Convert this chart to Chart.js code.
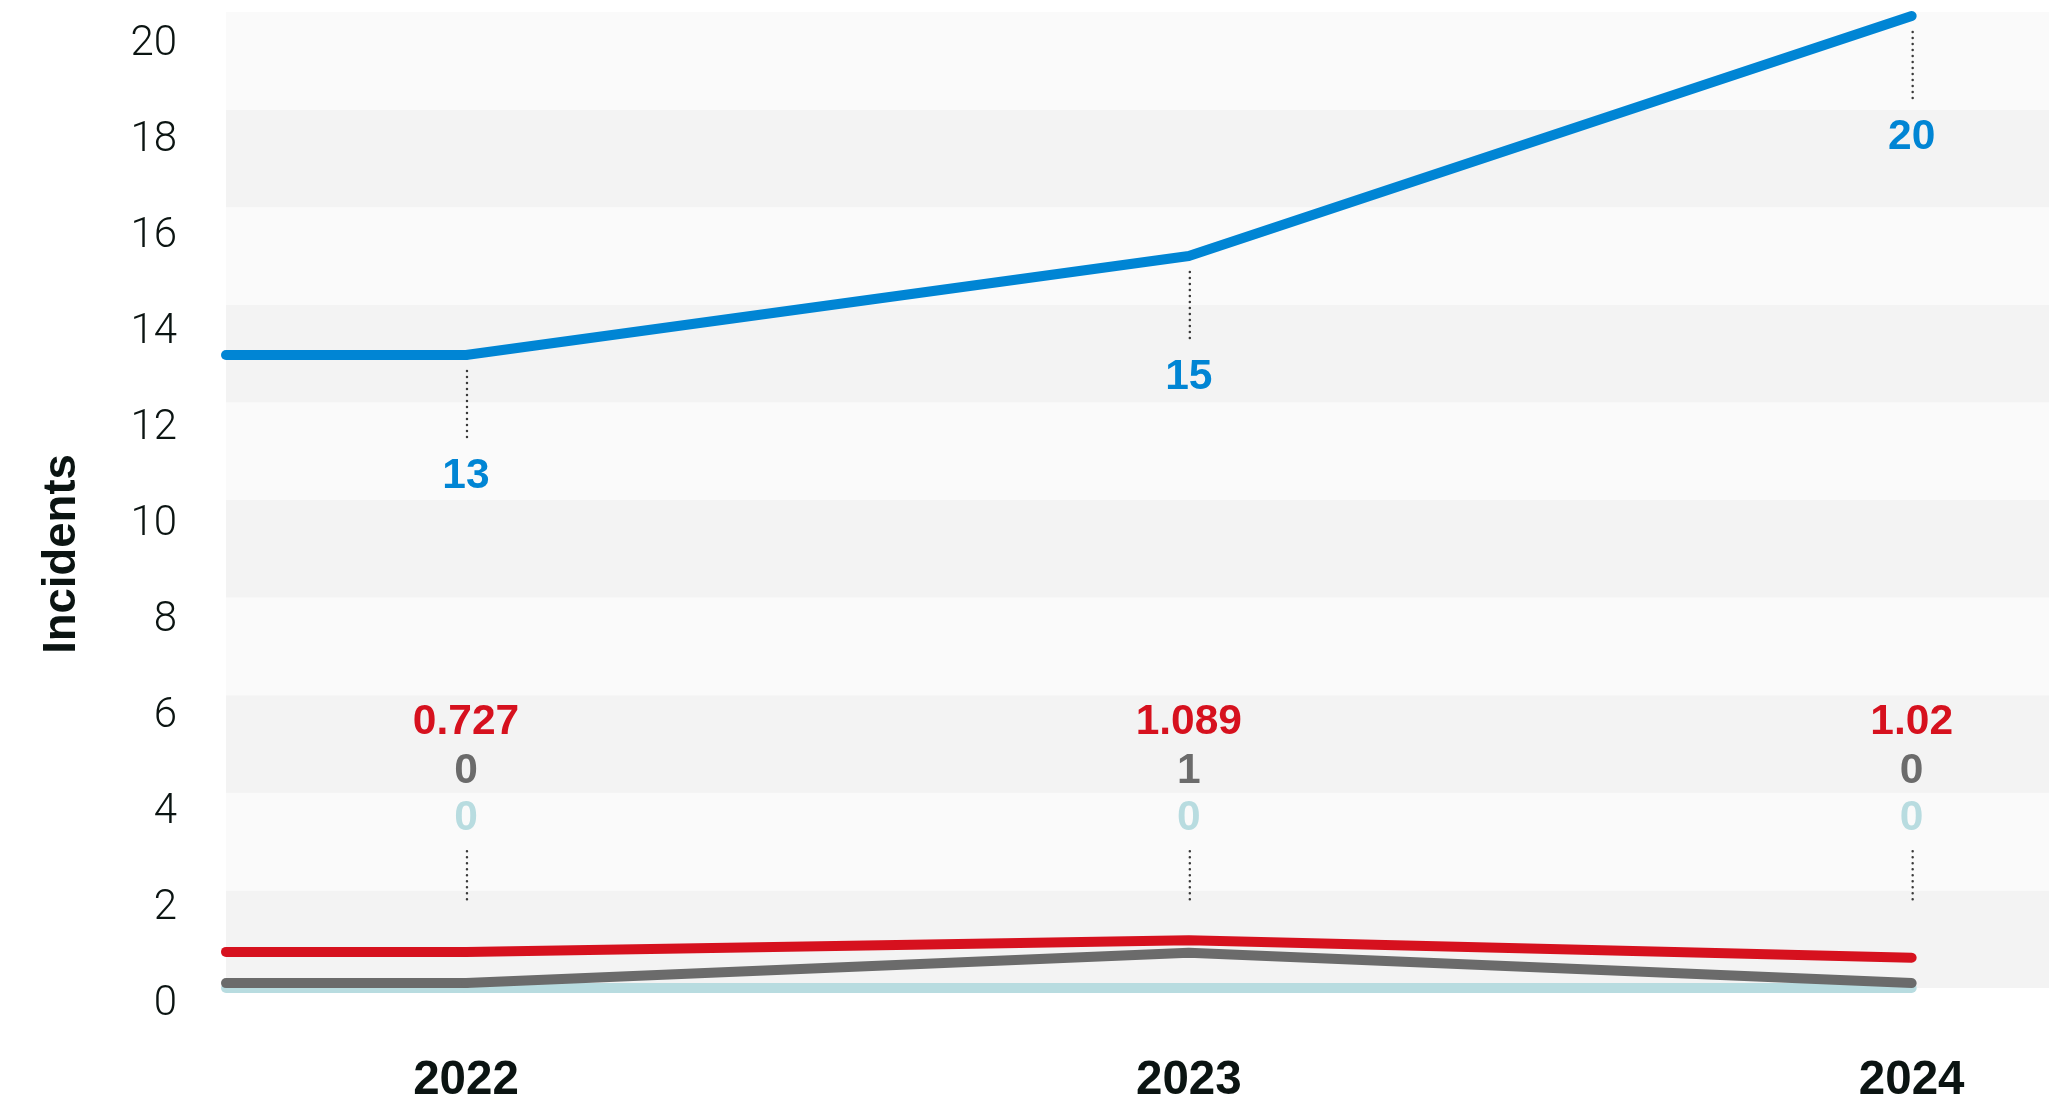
<!DOCTYPE html>
<html>
<head>
    <meta http-equiv="Content-Type" content="text/html; charset=UTF-8" />
    <title>Incidents</title>
    <script src="https://cdn.jsdelivr.net/npm/chart.js"></script>
<style>
    body { margin: 0; background-color: white; }
</style>
</head>
<body>
<canvas id="incidentChart" width="2060" height="1103"></canvas>

<script>
    // values
    var years = [2022, 2023, 2024];
    var yTicks = [0, 2, 4, 6, 8, 10, 12, 14, 16, 18, 20];

    var blueValues = [12.97, 15, 19.92];
    var redValues = [0.74, 0.98, 0.62];
    var grayValues = [0.1, 0.72, 0.1];
    var lightValues = [0, 0, 0];

    // printed labels
    var blueLabels = ['13', '15', '20'];
    var redLabels = ['0.727', '1.089', '1.02'];
    var grayLabels = ['0', '1', '0'];
    var lightLabels = ['0', '0', '0'];

    var BLUE = '#0085d4', RED = '#d6111e', GRAY = '#6b6b6b', LIGHT = '#b8dce0';
    var INK = '#0b1412';
    var BOLD = "'Liberation Sans', Arial, sans-serif";

    var toPoints = function(vals) {
        return vals.map(function(v, i) { return {x: years[i], y: v}; });
    };

    var lineSet = function(vals, color) {
        return {
            data: toPoints(vals),
            borderColor: color,
            borderWidth: 10,
            borderCapStyle: 'round',
            borderJoinStyle: 'round',
            pointRadius: 0,
            tension: 0,
            clip: false,
        };
    };

    // alternating bands behind the plot
    var bandsPlugin = {
        id: 'bands',
        beforeDatasetsDraw: function(chart) {
            var ctx = chart.ctx, area = chart.chartArea, y = chart.scales.y;
            ctx.save();
            for (var i = 0; i < yTicks.length - 1; i++) {
                var top = y.getPixelForValue(yTicks[i + 1]);
                var bot = y.getPixelForValue(yTicks[i]);
                ctx.fillStyle = (i % 2 == 0) ? '#f3f3f3' : '#fafafa';
                ctx.fillRect(area.left, top, area.right - area.left, bot - top);
            }
            ctx.restore();
        }
    };

    // flat run from the left edge to the first year
    var leadInPlugin = {
        id: 'leadIn',
        beforeDatasetDraw: function(chart, args) {
            var ds = chart.data.datasets[args.index];
            var p = args.meta.data[0];
            var ctx = chart.ctx;
            ctx.save();
            ctx.strokeStyle = ds.borderColor;
            ctx.lineWidth = ds.borderWidth;
            ctx.lineCap = 'round';
            ctx.beginPath();
            ctx.moveTo(chart.chartArea.left, p.y);
            ctx.lineTo(p.x, p.y);
            ctx.stroke();
            ctx.restore();
        }
    };

    var dotted = function(ctx, x, y1, y2) {
        ctx.save();
        ctx.strokeStyle = '#3a3a3a';
        ctx.lineWidth = 2.5;
        ctx.lineCap = 'round';
        ctx.setLineDash([0, 6]);
        ctx.beginPath();
        ctx.moveTo(x, y1);
        ctx.lineTo(x, y2);
        ctx.stroke();
        ctx.restore();
    };

    var text = function(ctx, str, x, y, color) {
        ctx.save();
        ctx.font = 'bold 42.5px ' + BOLD;
        ctx.fillStyle = color;
        ctx.textAlign = 'center';
        ctx.textBaseline = 'middle';
        ctx.fillText(str, x, y);
        ctx.restore();
    };

    var labelPlugin = {
        id: 'valueLabels',
        afterDatasetsDraw: function(chart) {
            var ctx = chart.ctx;
            var y = chart.scales.y;
            var red = chart.getDatasetMeta(1).data;
            for (var i = 0; i < years.length; i++) {
                var x = chart.scales.x.getPixelForValue(years[i]);
                var py = y.getPixelForValue(blueValues[i]);
                dotted(ctx, x + 1, py + 16, py + 84);
                text(ctx, blueLabels[i], x, py + 121, BLUE);

                text(ctx, redLabels[i], x, y.getPixelForValue(5.45), RED);
                text(ctx, grayLabels[i], x, y.getPixelForValue(4.45), GRAY);
                text(ctx, lightLabels[i], x, y.getPixelForValue(3.47), LIGHT);
                var end = Math.min(y.getPixelForValue(1.75), red[i].y - 18);
                dotted(ctx, x + 1, y.getPixelForValue(2.8), end);
            }

            // axis title
            ctx.save();
            ctx.translate(75, 554);
            ctx.rotate(-Math.PI / 2);
            ctx.font = 'bold 45.5px ' + BOLD;
            ctx.fillStyle = INK;
            ctx.textAlign = 'center';
            ctx.textBaseline = 'alphabetic';
            ctx.fillText('Incidents', 0, 0);
            ctx.restore();
        }
    };

    var chart = new Chart(document.getElementById('incidentChart'), {
        type: 'line',
        data: {
            datasets: [
                lineSet(blueValues, BLUE),
                lineSet(redValues, RED),
                lineSet(grayValues, GRAY),
                lineSet(lightValues, LIGHT),
            ],
        },
        options: {
            responsive: false,
            animation: false,
            devicePixelRatio: 1,
            layout: { padding: { top: 12, right: 11, left: 0, bottom: 0 } },
            plugins: {
                legend: { display: false },
                tooltip: { enabled: false },
            },
            scales: {
                x: {
                    type: 'linear',
                    min: 2021.668,
                    max: 2024.19,
                    afterBuildTicks: function(s) {
                        s.ticks = years.map(function(v) { return {value: v}; });
                    },
                    afterFit: function(s) {
                        s.height = 115;
                        s.paddingLeft = 0;
                        s.paddingRight = 0;
                    },
                    grid: { display: false, drawTicks: false },
                    border: { display: false },
                    ticks: {
                        callback: function(v) { return String(v); },
                        font: { family: BOLD, weight: 'bold', size: 47.5 },
                        color: INK,
                        padding: 64,
                        maxRotation: 0,
                        autoSkip: false,
                    },
                },
                y: {
                    display: false,
                    min: 0,
                    max: 20,
                },
                // label axis, set slightly apart from the value axis as in the picture
                y2: {
                    type: 'linear',
                    position: 'left',
                    min: 0.345,
                    max: 20.68,
                    bounds: 'data',
                    afterBuildTicks: function(s) {
                        s.ticks = yTicks.map(function(v) { return {value: v}; });
                    },
                    afterFit: function(s) {
                        s.width = 226;
                        s.paddingTop = 0;
                        s.paddingBottom = 0;
                    },
                    grid: { display: false, drawTicks: false },
                    border: { display: false },
                    ticks: {
                        font: { family: 'Roboto', weight: '300', size: 42 },
                        color: INK,
                        padding: 49,
                    },
                },
            },
        },
        plugins: [bandsPlugin, leadInPlugin, labelPlugin],
    });
</script>
</body>
</html>
